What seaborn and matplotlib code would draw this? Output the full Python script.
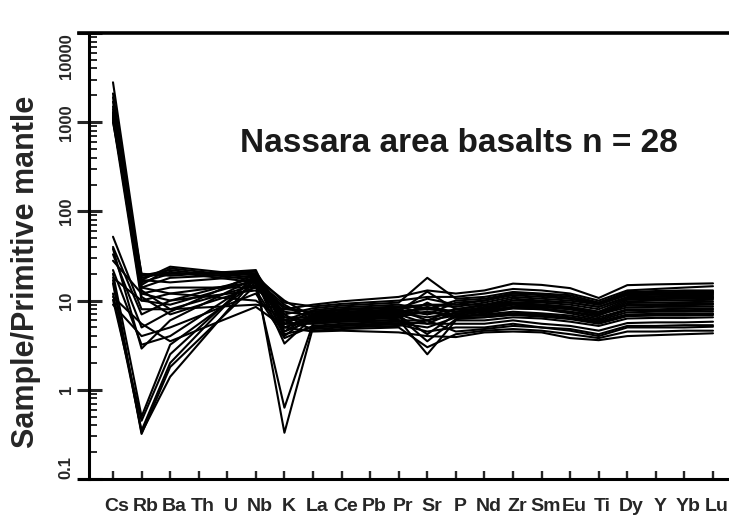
import matplotlib
matplotlib.use("Agg")
import matplotlib.pyplot as plt
import matplotlib.transforms as mtransforms
from matplotlib.ticker import LogLocator, NullFormatter
import pandas as pd
import seaborn as sns

# Spider-diagram element order (Th, U and Pb were not analysed)
elements = ["Cs", "Rb", "Ba", "Th", "U", "Nb", "K", "La", "Ce", "Pb", "Pr",
            "Sr", "P", "Nd", "Zr", "Sm", "Eu", "Ti", "Dy", "Y", "Yb", "Lu"]
ytick_values = [0.1, 1, 10, 100, 1000, 10000]
ytick_labels = ["0.1", "1", "10", "100", "1000", "10000"]

# Primitive-mantle normalised concentrations, one entry per sample (28 samples)
cs = [2800, 2100, 1900, 1700, 1500, 1400, 1300, 1250, 1200, 1150, 1100, 1050, 1000, 1120,
      52, 38, 33, 22, 17, 15.6, 10.2, 20, 12, 9, 40, 18, 28, 11]
rb = [19, 17, 16, 14, 12, 18, 20, 13, 15, 11, 17, 10, 19, 14,
      8, 2.9, 5, 3.2, 0.33, 0.32, 0.45, 0.5, 0.35, 4, 7, 10, 12, 5.5]
ba = [22, 24, 20, 18, 10, 21, 19, 8, 23, 7, 16, 9, 20, 12,
      8, 6, 7.5, 4, 1.4, 1.8, 2.5, 3.2, 2.0, 5, 10, 12, 14, 3.5]
nb = [17, 19, 21, 20, 18, 16, 22, 15, 18, 14, 19, 17, 20, 16,
      9, 18, 20, 17, 18, 15, 19, 16, 20, 12, 13, 10, 14, 8.5]
k = [8.0, 9.5, 7.0, 6.0, 5.5, 8.5, 4.5, 7.5, 10.0, 6.5, 5.0, 9.0, 6.5, 5.5,
     8.0, 4.0, 5.0, 3.3, 0.33, 0.63, 6.0, 4.5, 5.5, 3.8, 4.2, 6.0, 7.0, 5.0]
la = [9.0, 8.6, 8.2, 7.8, 7.5, 7.2, 7.0, 6.8, 6.6, 6.4, 6.2, 6.0, 5.8, 5.6,
      7.5, 7.0, 6.8, 6.5, 5.0, 5.5, 6.2, 6.0, 5.5, 5.2, 5.0, 4.8, 4.6, 4.5]
ce = [9.8, 9.2, 8.8, 8.4, 8.0, 7.8, 7.5, 7.2, 7.0, 6.8, 6.6, 6.4, 6.2, 6.0,
      8.0, 7.4, 7.2, 6.9, 5.3, 5.8, 6.5, 6.3, 5.8, 5.5, 5.2, 5.0, 4.8, 4.6]
pr = [11.0, 10.0, 9.5, 9.0, 8.6, 8.3, 8.0, 7.8, 7.5, 7.3, 7.0, 6.8, 6.6, 6.4,
      8.5, 7.8, 7.6, 7.2, 5.6, 6.0, 6.8, 6.6, 6.1, 5.8, 5.4, 5.2, 5.0, 4.4]
sr = [13.0, 11.0, 18.0, 8.0, 7.0, 10.5, 9.0, 6.0, 12.6, 8.5, 5.5, 4.2, 7.5, 9.5,
      9.0, 7.0, 8.0, 6.5, 5.0, 6.0, 7.5, 3.5, 2.5, 5.5, 4.5, 6.0, 3.0, 4.0]
p = [12.0, 11.0, 10.5, 10.0, 9.5, 9.0, 8.5, 8.0, 8.0, 7.5, 7.5, 7.0, 6.8, 6.5,
     9.0, 8.0, 7.5, 7.2, 6.5, 6.8, 6.5, 6.2, 6.0, 5.5, 5.0, 4.5, 4.2, 3.9]
nd = [13.0, 12.0, 11.0, 10.5, 10.0, 10.0, 9.5, 9.0, 8.8, 8.5, 8.2, 8.0, 7.5, 7.2,
      9.0, 8.0, 7.8, 7.5, 7.0, 6.8, 6.5, 6.5, 6.0, 5.5, 5.0, 4.8, 4.6, 4.4]
zr = [15.5, 13.5, 12.5, 12.0, 12.0, 11.5, 11.0, 10.5, 10.0, 9.5, 9.2, 9.0, 8.5, 8.2,
      9.5, 9.0, 8.5, 8.2, 7.5, 7.2, 7.0, 6.9, 6.5, 6.0, 5.5, 5.2, 4.8, 4.5]
sm = [15.0, 13.0, 12.0, 11.8, 11.5, 11.0, 10.5, 10.0, 9.8, 9.5, 9.0, 8.8, 8.5, 8.0,
      9.0, 8.5, 8.2, 8.0, 7.2, 7.0, 6.8, 6.6, 6.3, 5.5, 5.0, 5.0, 4.6, 4.4]
eu = [13.8, 12.0, 11.5, 11.0, 10.5, 10.5, 10.0, 9.5, 9.5, 9.0, 8.5, 8.2, 8.0, 7.5,
      8.5, 8.0, 7.5, 7.2, 6.8, 6.5, 6.4, 6.2, 5.8, 5.2, 4.8, 4.6, 4.2, 3.8]
ti = [10.7, 10.0, 9.5, 9.2, 9.0, 9.5, 9.0, 8.5, 8.5, 8.0, 7.5, 7.2, 7.0, 6.8,
      7.5, 7.0, 6.5, 6.2, 6.0, 5.8, 5.6, 5.5, 5.2, 4.6, 4.2, 4.0, 3.8, 3.6]
dy = [14.9, 13.0, 12.5, 12.2, 12.0, 11.8, 11.5, 11.0, 10.8, 10.5, 10.2, 9.8, 9.4, 9.0,
      8.8, 8.4, 8.0, 7.8, 7.4, 7.0, 6.8, 6.7, 6.3, 5.6, 5.2, 5.0, 4.5, 4.0]
y = [15.2, 13.5, 12.8, 12.4, 12.2, 12.0, 11.6, 11.2, 11.0, 10.6, 10.4, 10.0, 9.5, 9.1,
     8.8, 8.5, 8.0, 7.8, 7.5, 7.1, 6.9, 6.8, 6.4, 5.7, 5.2, 5.0, 4.5, 4.1]
yb = [15.4, 14.0, 13.0, 12.5, 12.3, 12.0, 11.7, 11.4, 11.0, 10.7, 10.5, 10.1, 9.6, 9.2,
      8.9, 8.5, 8.1, 7.8, 7.5, 7.1, 6.9, 6.8, 6.4, 5.7, 5.3, 5.0, 4.6, 4.2]
lu = [15.6, 14.5, 13.0, 12.6, 12.4, 12.1, 11.8, 11.5, 11.1, 10.8, 10.6, 10.2, 9.7, 9.3,
      9.0, 8.6, 8.2, 7.9, 7.6, 7.2, 7.0, 6.9, 6.5, 5.8, 5.3, 5.1, 4.6, 4.3]

measured = {"Cs": cs, "Rb": rb, "Ba": ba, "Nb": nb, "K": k, "La": la, "Ce": ce,
            "Pr": pr, "Sr": sr, "P": p, "Nd": nd, "Zr": zr, "Sm": sm, "Eu": eu,
            "Ti": ti, "Dy": dy, "Y": y, "Yb": yb, "Lu": lu}

rows = []
for el, vals in measured.items():
    pos = elements.index(el)
    for i, v in enumerate(vals):
        rows.append({"sample": i, "pos": pos, "value": v})
df = pd.DataFrame(rows)

sns.set_style("ticks")
plt.rcParams["font.family"] = ["Liberation Sans", "DejaVu Sans"]

W, H = 729, 516
fig = plt.figure(figsize=(W / 100, H / 100), dpi=100)
ax = fig.add_axes([89 / W, 37 / H, (W - 89) / W, 446 / H])

sns.lineplot(data=df, x="pos", y="value", units="sample", estimator=None,
             color="black", lw=1.5, sort=True, legend=False, ax=ax)

ax.set_yscale("log")
ax.set_ylim(0.1, 10000)
ax.set_xlim(-0.84, 21.56)

# axes frame: heavy left, bottom and top lines, no right spine
ax.spines["right"].set_visible(False)
for side in ("left", "bottom", "top"):
    ax.spines[side].set_linewidth(2.2)
    ax.spines[side].set_color("black")
ax.spines["top"].set_linewidth(2.6)
ax.spines["bottom"].set_bounds(-1.19, 21.56)
ax.spines["top"].set_bounds(-1.19, 21.56)

# x axis: element ticks pointing inward
ax.set_xticks(range(len(elements)))
ax.set_xticklabels(elements, fontsize=14, fontweight="bold")
ax.tick_params(axis="x", which="both", direction="in", length=6, width=1.7,
               pad=14, top=False, bottom=True)
shift = mtransforms.ScaledTranslation(4 / 100, 0, fig.dpi_scale_trans)
for lab in ax.get_xticklabels():
    lab.set_transform(lab.get_transform() + shift)

# y axis: decades with log minor ticks
ax.set_yticks(ytick_values)
ax.set_yticklabels(ytick_labels, fontsize=12, fontweight="bold", rotation=90, va="center")
ax.yaxis.set_minor_locator(LogLocator(base=10, subs=range(2, 10), numticks=20))
ax.yaxis.set_minor_formatter(NullFormatter())
ax.tick_params(axis="y", which="major", direction="inout", length=18, width=2.2, pad=2)
ax.tick_params(axis="y", which="minor", direction="in", length=6, width=1.4)
major_ticks = ax.yaxis.get_major_ticks()
major_ticks[0].label1.set_va("bottom")
major_ticks[-1].label1.set_va("top")

ax.set_xlabel("")
ax.set_ylabel("Sample/Primitive mantle", fontsize=22, fontweight="bold")
ax.yaxis.set_label_coords(-0.075, 0.464)

ax.text(0.578, 0.753, "Nassara area basalts n = 28", transform=ax.transAxes,
        ha="center", va="center", fontsize=24, fontweight="bold", color="#1a1a1a")

fig.savefig("out.png", dpi=100)
